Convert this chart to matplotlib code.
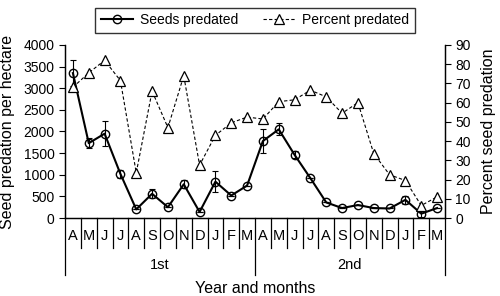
import numpy as np
import matplotlib.pyplot as plt
import matplotlib.transforms as mtransforms

plt.rcParams['font.family'] = ['Liberation Sans', 'DejaVu Sans']

months = ['A', 'M', 'J', 'J', 'A', 'S', 'O', 'N', 'D', 'J', 'F', 'M',
          'A', 'M', 'J', 'J', 'A', 'S', 'O', 'N', 'D', 'J', 'F', 'M']
years = ['1st', '2nd']

seeds = [3350, 1730, 1950, 1020, 200, 560, 250, 780, 140, 840, 520, 750,
         1780, 2050, 1460, 920, 360, 230, 300, 230, 220, 420, 100, 230]
seeds_err = [300, 120, 290, 100, 0, 100, 0, 90, 0, 250, 0, 0,
             270, 140, 80, 0, 0, 0, 0, 0, 0, 100, 80, 0]
percent = [68, 75.5, 82, 71.5, 23.5, 66, 47, 74, 27.5, 43, 49.5, 52.5,
           51.5, 60.5, 61.5, 66.5, 63, 54.5, 60, 33.5, 22.5, 19.5, 6.5, 11]

x = np.arange(len(months))

fig = plt.figure(figsize=(5, 2.96), dpi=100)
ax = fig.add_axes([0.13, 0.2635, 0.76, 0.5845])
ax2 = ax.twinx()

l1, = ax.plot(x, seeds, '-o', color='black', lw=1.5, ms=6, mfc='none', mew=1,
              label='Seeds predated', zorder=3)
ax.errorbar(x, seeds, yerr=seeds_err, fmt='none', ecolor='black', elinewidth=0.8,
            capsize=2.5, capthick=0.8, zorder=3)
l2, = ax2.plot(x, percent, '--^', color='black', lw=0.8, ms=6.5, mfc='white', mew=0.9,
               dashes=(3, 2), label='Percent predated')

ax.set_xlim(-0.5, len(months) - 0.5)
ax.set_ylim(0, 4000)
ax.set_yticks(np.arange(0, 4001, 500))
ax2.set_ylim(0, 90)
ax2.set_yticks(np.arange(0, 91, 10))

for a in (ax, ax2):
    a.spines['top'].set_visible(False)
    a.tick_params(axis='y', direction='out', length=4, width=0.8, labelsize=10)
    for s in a.spines.values():
        s.set_linewidth(0.9)

ax.set_xticks([])
trans = mtransforms.blended_transform_factory(ax.transData, ax.transAxes)
yr_len = 12
# month separators and labels
for i in range(len(months) + 1):
    bottom = -0.33 if i % yr_len == 0 else -0.173
    ax.plot([i - 0.5, i - 0.5], [0, bottom], color='black', lw=0.9,
            transform=trans, clip_on=False)
for i, m in enumerate(months):
    ax.text(i, -0.105, m, transform=trans, ha='center', va='center', fontsize=10.5)
for j, yname in enumerate(years):
    ax.text(j * yr_len + (yr_len - 1) / 2, -0.27, yname, transform=trans,
            ha='center', va='center', fontsize=10.5)

ax.text(0.5, -0.41, 'Year and months', transform=ax.transAxes, ha='center',
        va='center', fontsize=11.5)
ax.set_ylabel('Seed predation per hectare', fontsize=11.5, labelpad=6)
ax2.set_ylabel('Percent seed predation', fontsize=11.5, labelpad=7)

fig.legend(handles=[l1, l2], loc='upper center', bbox_to_anchor=(0.51, 0.998),
           ncol=2, frameon=True, fancybox=False, edgecolor='black', fontsize=10,
           handlelength=2.3, columnspacing=1.8, borderpad=0.4, handletextpad=0.5)

fig.savefig('out.png', dpi=100)
